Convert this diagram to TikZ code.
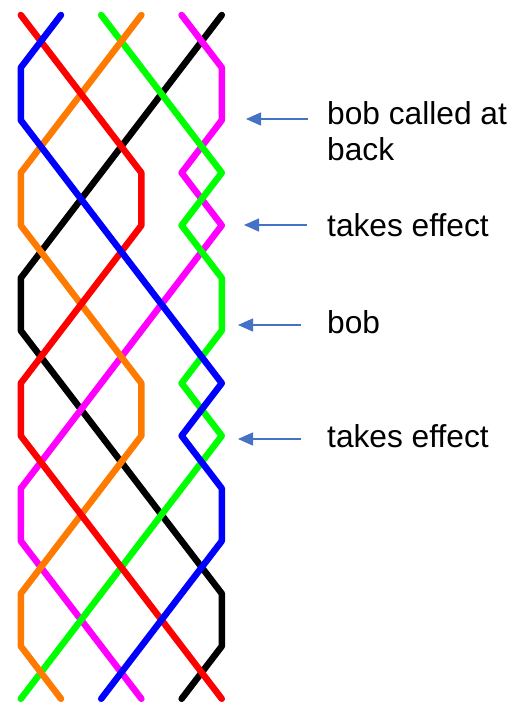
\documentclass[tikz,border=0pt]{standalone}
\usepackage{fontspec}
\setmainfont{Liberation Sans}
\usetikzlibrary{arrows.meta}
\definecolor{bellorange}{RGB}{255,122,0}
\definecolor{bellmagenta}{RGB}{255,0,255}
\definecolor{bellgreen}{RGB}{0,255,0}
\definecolor{callblue}{RGB}{68,114,196}
\newcommand{\bellline}[3]{% colour, first place, later places
  \draw[bell,#1] (#2,0) \foreach \c [count=\r] in {#3} { -- (\c,\r) };}

\begin{document}
\begin{tikzpicture}[x=1pt,y=1pt,
    bell/.style={line width=6.5pt,line cap=round,line join=round},
    callarrow/.style={callblue,line width=1.3pt,-{Triangle[length=15pt,width=13pt]}},
    note/.style={anchor=base west,inner sep=0pt,align=left,
      font=\fontsize{31.7}{36}\selectfont}]
    \useasboundingbox (0,0) rectangle (528,-704);
    % the six bells, one place per row
    \begin{scope}[shift={(-19.4,-15)},x=40.2pt,y=-52.6pt]
    \bellline{black}{6}{5,4,3,2,1,1,2,3,4,5,6,6,5}
    \bellline{bellmagenta}{5}{6,6,5,6,5,4,3,2,1,1,2,3,4}
    \bellline{bellgreen}{3}{4,5,6,5,6,6,5,6,5,4,3,2,1}
    \bellline{bellorange}{4}{3,2,1,1,2,3,4,4,3,2,1,1,2}
    \bellline{red}{1}{2,3,4,4,3,2,1,1,2,3,4,5,6}
    \bellline{blue}{2}{1,1,2,3,4,5,6,5,6,6,5,4,3}
    \end{scope}
    % calls
    \node[note] (call) at (327,-160.7) {bob called at\\back};
    \node[note] (effectA) at (327,-236.7) {takes effect};
    \node[note] (bob) at (327,-333.5) {bob};
    \node[note] (effectB) at (327,-447.3) {takes effect};
    \coordinate (callT) at (308,-119);   \coordinate (callH) at (246,-119);
    \coordinate (effectAT) at (307,-225); \coordinate (effectAH) at (244,-225);
    \coordinate (bobT) at (301,-325);    \coordinate (bobH) at (238,-325);
    \coordinate (effectBT) at (301,-439); \coordinate (effectBH) at (238,-439);
    \foreach \n in {call,effectA,bob,effectB}
        \draw[callarrow] (\n T) -- (\n H);
\end{tikzpicture}
\end{document}
